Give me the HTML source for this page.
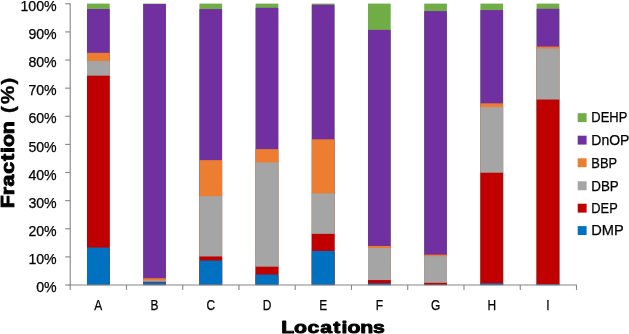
<!DOCTYPE html>
<html><head><meta charset="utf-8"><title>Fraction by Locations</title>
<style>html,body{margin:0;padding:0;background:#fff;}svg{display:block;}text{font-family:"Liberation Sans",sans-serif;fill:#000;}.n{stroke:#000;stroke-width:0.25;}.b{font-family:"Liberation Sans",sans-serif;font-weight:bold;stroke:#000;stroke-width:0.9;stroke-linejoin:round;}</style></head>
<body>
<svg width="629" height="334" viewBox="0 0 629 334">
<rect width="629" height="334" fill="#fff"/>
<rect x="87.00" y="3.60" width="22.7" height="281.45" fill="#70AD47"/>
<rect x="87.00" y="9.00" width="22.7" height="276.05" fill="#7030A0"/>
<rect x="87.00" y="52.80" width="22.7" height="232.25" fill="#ED7D31"/>
<rect x="87.00" y="60.90" width="22.7" height="224.15" fill="#A5A5A5"/>
<rect x="87.00" y="75.70" width="22.7" height="209.35" fill="#C00000"/>
<rect x="87.00" y="247.55" width="22.7" height="37.50" fill="#0070C0"/>
<rect x="143.20" y="3.60" width="22.7" height="281.45" fill="#70AD47"/>
<rect x="143.20" y="4.00" width="22.7" height="281.05" fill="#7030A0"/>
<rect x="143.20" y="278.20" width="22.7" height="6.85" fill="#ED7D31"/>
<rect x="143.20" y="280.20" width="22.7" height="4.85" fill="#A5A5A5"/>
<rect x="143.20" y="281.80" width="22.7" height="3.25" fill="#C00000"/>
<rect x="143.20" y="282.40" width="22.7" height="2.65" fill="#0070C0"/>
<rect x="199.40" y="3.60" width="22.7" height="281.45" fill="#70AD47"/>
<rect x="199.40" y="9.06" width="22.7" height="275.99" fill="#7030A0"/>
<rect x="199.40" y="160.15" width="22.7" height="124.90" fill="#ED7D31"/>
<rect x="199.40" y="196.20" width="22.7" height="88.85" fill="#A5A5A5"/>
<rect x="199.40" y="256.45" width="22.7" height="28.60" fill="#C00000"/>
<rect x="199.40" y="260.55" width="22.7" height="24.50" fill="#0070C0"/>
<rect x="255.60" y="3.60" width="22.7" height="281.45" fill="#70AD47"/>
<rect x="255.60" y="7.80" width="22.7" height="277.25" fill="#7030A0"/>
<rect x="255.60" y="149.15" width="22.7" height="135.90" fill="#ED7D31"/>
<rect x="255.60" y="162.45" width="22.7" height="122.60" fill="#A5A5A5"/>
<rect x="255.60" y="266.70" width="22.7" height="18.35" fill="#C00000"/>
<rect x="255.60" y="274.55" width="22.7" height="10.50" fill="#0070C0"/>
<rect x="311.80" y="3.60" width="22.7" height="281.45" fill="#70AD47"/>
<rect x="311.80" y="4.80" width="22.7" height="280.25" fill="#7030A0"/>
<rect x="311.80" y="139.30" width="22.7" height="145.75" fill="#ED7D31"/>
<rect x="311.80" y="193.45" width="22.7" height="91.60" fill="#A5A5A5"/>
<rect x="311.80" y="233.85" width="22.7" height="51.20" fill="#C00000"/>
<rect x="311.80" y="250.95" width="22.7" height="34.10" fill="#0070C0"/>
<rect x="368.00" y="3.60" width="22.7" height="281.45" fill="#70AD47"/>
<rect x="368.00" y="29.90" width="22.7" height="255.15" fill="#7030A0"/>
<rect x="368.00" y="246.00" width="22.7" height="39.05" fill="#ED7D31"/>
<rect x="368.00" y="248.00" width="22.7" height="37.05" fill="#A5A5A5"/>
<rect x="368.00" y="280.05" width="22.7" height="5.00" fill="#C00000"/>
<rect x="368.00" y="283.35" width="22.7" height="1.70" fill="#0070C0"/>
<rect x="424.20" y="3.60" width="22.7" height="281.45" fill="#70AD47"/>
<rect x="424.20" y="11.10" width="22.7" height="273.95" fill="#7030A0"/>
<rect x="424.20" y="254.65" width="22.7" height="30.40" fill="#ED7D31"/>
<rect x="424.20" y="256.15" width="22.7" height="28.90" fill="#A5A5A5"/>
<rect x="424.20" y="282.85" width="22.7" height="2.20" fill="#C00000"/>
<rect x="424.20" y="284.90" width="22.7" height="0.15" fill="#0070C0"/>
<rect x="480.40" y="3.60" width="22.7" height="281.45" fill="#70AD47"/>
<rect x="480.40" y="10.06" width="22.7" height="274.99" fill="#7030A0"/>
<rect x="480.40" y="103.35" width="22.7" height="181.70" fill="#ED7D31"/>
<rect x="480.40" y="107.15" width="22.7" height="177.90" fill="#A5A5A5"/>
<rect x="480.40" y="172.75" width="22.7" height="112.30" fill="#C00000"/>
<rect x="480.40" y="283.35" width="22.7" height="1.70" fill="#0070C0"/>
<rect x="536.60" y="3.60" width="22.7" height="281.45" fill="#70AD47"/>
<rect x="536.60" y="8.80" width="22.7" height="276.25" fill="#7030A0"/>
<rect x="536.60" y="46.55" width="22.7" height="238.50" fill="#ED7D31"/>
<rect x="536.60" y="48.55" width="22.7" height="236.50" fill="#A5A5A5"/>
<rect x="536.60" y="99.55" width="22.7" height="185.50" fill="#C00000"/>
<rect x="536.60" y="284.15" width="22.7" height="0.90" fill="#0070C0"/>
<g stroke="#868686" stroke-width="1.1" fill="none">
<line x1="70.2" y1="3.25" x2="70.2" y2="285.85"/>
<line x1="69.7" y1="285.05" x2="577.0" y2="285.05"/>
<line x1="65.2" y1="3.80" x2="70.2" y2="3.80"/>
<line x1="65.2" y1="31.92" x2="70.2" y2="31.92"/>
<line x1="65.2" y1="60.04" x2="70.2" y2="60.04"/>
<line x1="65.2" y1="88.16" x2="70.2" y2="88.16"/>
<line x1="65.2" y1="116.28" x2="70.2" y2="116.28"/>
<line x1="65.2" y1="144.40" x2="70.2" y2="144.40"/>
<line x1="65.2" y1="172.52" x2="70.2" y2="172.52"/>
<line x1="65.2" y1="200.64" x2="70.2" y2="200.64"/>
<line x1="65.2" y1="228.76" x2="70.2" y2="228.76"/>
<line x1="65.2" y1="256.88" x2="70.2" y2="256.88"/>
<line x1="65.2" y1="285.00" x2="70.2" y2="285.00"/>
<line x1="70.20" y1="285.05" x2="70.20" y2="289.9"/>
<line x1="126.46" y1="285.05" x2="126.46" y2="289.9"/>
<line x1="182.71" y1="285.05" x2="182.71" y2="289.9"/>
<line x1="238.97" y1="285.05" x2="238.97" y2="289.9"/>
<line x1="295.22" y1="285.05" x2="295.22" y2="289.9"/>
<line x1="351.48" y1="285.05" x2="351.48" y2="289.9"/>
<line x1="407.73" y1="285.05" x2="407.73" y2="289.9"/>
<line x1="463.99" y1="285.05" x2="463.99" y2="289.9"/>
<line x1="520.24" y1="285.05" x2="520.24" y2="289.9"/>
<line x1="576.50" y1="285.05" x2="576.50" y2="289.9"/>
</g>
<g class="n" font-size="14.9" text-anchor="end">
<text x="56.7" y="10.95" textLength="36.3" lengthAdjust="spacingAndGlyphs">100%</text>
<text x="56.7" y="39.07" textLength="28.3" lengthAdjust="spacingAndGlyphs">90%</text>
<text x="56.7" y="67.19" textLength="28.3" lengthAdjust="spacingAndGlyphs">80%</text>
<text x="56.7" y="95.31" textLength="28.3" lengthAdjust="spacingAndGlyphs">70%</text>
<text x="56.7" y="123.43" textLength="28.3" lengthAdjust="spacingAndGlyphs">60%</text>
<text x="56.7" y="151.55" textLength="28.3" lengthAdjust="spacingAndGlyphs">50%</text>
<text x="56.7" y="179.67" textLength="28.3" lengthAdjust="spacingAndGlyphs">40%</text>
<text x="56.7" y="207.79" textLength="28.3" lengthAdjust="spacingAndGlyphs">30%</text>
<text x="56.7" y="235.91" textLength="28.3" lengthAdjust="spacingAndGlyphs">20%</text>
<text x="56.7" y="264.03" textLength="28.3" lengthAdjust="spacingAndGlyphs">10%</text>
<text x="56.7" y="292.15" textLength="20.5" lengthAdjust="spacingAndGlyphs">0%</text>
</g>
<g class="n" font-size="14.4" text-anchor="middle">
<text x="98.35" y="309.6" textLength="7.97" lengthAdjust="spacingAndGlyphs">A</text>
<text x="154.55" y="309.6" textLength="7.97" lengthAdjust="spacingAndGlyphs">B</text>
<text x="210.75" y="309.6" textLength="8.63" lengthAdjust="spacingAndGlyphs">C</text>
<text x="266.95" y="309.6" textLength="8.63" lengthAdjust="spacingAndGlyphs">D</text>
<text x="323.15" y="309.6" textLength="7.97" lengthAdjust="spacingAndGlyphs">E</text>
<text x="379.35" y="309.6" textLength="7.30" lengthAdjust="spacingAndGlyphs">F</text>
<text x="435.55" y="309.6" textLength="9.30" lengthAdjust="spacingAndGlyphs">G</text>
<text x="491.75" y="309.6" textLength="8.63" lengthAdjust="spacingAndGlyphs">H</text>
<text x="547.95" y="309.6" textLength="3.32" lengthAdjust="spacingAndGlyphs">I</text>
</g>
<g class="n" font-size="14.9">
<rect x="577.7" y="113.2" width="8.9" height="8.9" fill="#70AD47" stroke="none"/>
<text x="591.3" y="122.40" textLength="36.0" lengthAdjust="spacingAndGlyphs">DEHP</text>
<rect x="577.7" y="135.7" width="8.9" height="8.9" fill="#7030A0" stroke="none"/>
<text x="591.3" y="144.90" textLength="38.1" lengthAdjust="spacingAndGlyphs">DnOP</text>
<rect x="577.7" y="158.3" width="8.9" height="8.9" fill="#ED7D31" stroke="none"/>
<text x="591.3" y="167.50" textLength="25.8" lengthAdjust="spacingAndGlyphs">BBP</text>
<rect x="577.7" y="181.3" width="8.9" height="8.9" fill="#A5A5A5" stroke="none"/>
<text x="591.3" y="190.50" textLength="27.5" lengthAdjust="spacingAndGlyphs">DBP</text>
<rect x="577.7" y="203.7" width="8.9" height="8.9" fill="#C00000" stroke="none"/>
<text x="591.3" y="212.90" textLength="26.4" lengthAdjust="spacingAndGlyphs">DEP</text>
<rect x="577.7" y="226.1" width="8.9" height="8.9" fill="#0070C0" stroke="none"/>
<text x="591.3" y="235.30" textLength="32.5" lengthAdjust="spacingAndGlyphs">DMP</text>
</g>
<text class="b" transform="translate(281.4,333.2) scale(1.23,1)" font-size="17.3" x="-0.08 10.33 21.22 31.63 42.23 48.77 53.70 64.11 74.56" y="0">Locations</text>
<text class="b" transform="translate(14.4,208) rotate(-90) scale(1.2,1)" font-size="17.8" x="-0.16 10.61 17.92 28.48 39.26 45.90 50.86 61.42" y="0">Fraction</text>
<text class="b" style="stroke-width:0.35" transform="translate(14.4,208) rotate(-90) scale(1.15,1)" font-size="17.8" x="82.52 90.43 107.30" y="0">(%)</text>
</svg>
</body></html>
